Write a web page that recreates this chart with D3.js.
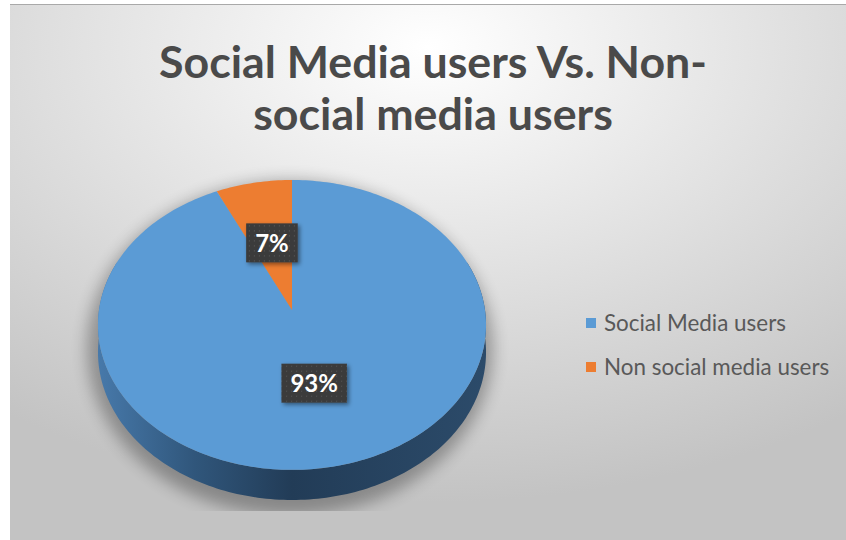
<!DOCTYPE html>
<html>
<head>
<meta charset="utf-8">
<script src="https://cdn.jsdelivr.net/npm/d3@7"></script>
<style>
  body { margin: 0; background: #fff; }
  svg { display: block; font-family: Lato, "Open Sans", sans-serif; }
</style>
</head>
<body>
<div id="chart"></div>
<script>
'use strict'

var categories = ["Social Media users", "Non social media users"];
var values = [93, 7];
var colors = ["#5b9bd5", "#ed7d31"];
var titleLines = ["Social Media users Vs. Non-", "social media users"];

var W = 846, H = 540;
var svg = d3.select("#chart").append("svg").attr("width", W).attr("height", H);
var defs = svg.append("defs");

// background gradient
var bg = defs.append("radialGradient").attr("id", "bg")
    .attr("cx", "50%").attr("cy", "8%").attr("r", "85%");
bg.append("stop").attr("offset", "0%").attr("stop-color", "#ffffff");
bg.append("stop").attr("offset", "45%").attr("stop-color", "#e4e4e4");
bg.append("stop").attr("offset", "100%").attr("stop-color", "#c3c3c3");

var side = defs.append("linearGradient").attr("id", "side")
    .attr("x1", "0%").attr("x2", "100%").attr("y1", "0%").attr("y2", "0%");
side.append("stop").attr("offset", "0%").attr("stop-color", "#4779aa");
side.append("stop").attr("offset", "25%").attr("stop-color", "#30567b");
side.append("stop").attr("offset", "50%").attr("stop-color", "#223c57");
side.append("stop").attr("offset", "100%").attr("stop-color", "#2c4b6a");

var blur = defs.append("filter").attr("id", "blur")
    .attr("x", "-20%").attr("y", "-20%").attr("width", "140%").attr("height", "140%");
blur.append("feGaussianBlur").attr("stdDeviation", 8);

var drop = defs.append("filter").attr("id", "drop")
    .attr("x", "-20%").attr("y", "-20%").attr("width", "150%").attr("height", "160%");
drop.append("feDropShadow").attr("dx", 2).attr("dy", 2).attr("stdDeviation", 2)
    .attr("flood-color", "#000").attr("flood-opacity", 0.45);

var dots = defs.append("pattern").attr("id", "dots")
    .attr("width", 5).attr("height", 5).attr("patternUnits", "userSpaceOnUse");
dots.append("rect").attr("width", 5).attr("height", 5).attr("fill", "#3b3b3b");
dots.append("rect").attr("x", 2).attr("y", 2).attr("width", 1).attr("height", 1).attr("fill", "#5a5a5a");

defs.append("clipPath").attr("id", "clipShadow")
    .append("rect").attr("x", 0).attr("y", 0).attr("width", W).attr("height", 511);

// chart area
svg.append("rect").attr("x", 10).attr("y", 4).attr("width", W - 10).attr("height", H - 4)
    .attr("fill", "url(#bg)");
svg.append("line").attr("x1", 10).attr("x2", W).attr("y1", 4.5).attr("y2", 4.5)
    .attr("stroke", "#a9a9a9").attr("stroke-width", 1);

// title
var title = svg.append("g").attr("fill", "#4a4a4a").attr("font-weight", "bold")
    .attr("text-anchor", "middle");
title.selectAll("text").data(titleLines).join("text")
    .attr("x", 433)
    .attr("y", function (d, i) { return 78 + i * 52; })
    .attr("font-size", 40)
    .text(function (d) { return d; });
// fit first line to the width seen in the chart
var t0 = title.select("text").node().getComputedTextLength();
title.selectAll("text").attr("font-size", 40 * 548 / t0);

// pie in perspective
var cx = 292, cy = 310, rx = 193, ry = 143.4, k = 0.103, depth = 27;
function proj(a, f, dz) {
    var u = f * Math.sin(a), v = -f * Math.cos(a);
    var s = 1 / (1 - k * v);
    return [cx + rx * u * s, cy + ry * v * s + dz * s];
}
function rim(a0, a1, dz) {
    var pts = [], n = Math.max(2, Math.ceil(Math.abs(a1 - a0) / 0.02));
    for (var i = 0; i <= n; i++) pts.push(proj(a0 + (a1 - a0) * i / n, 1, dz));
    return pts;
}
var line = d3.line();

var pie = d3.pie().sort(null).value(function (d) { return d; });
var arcs = pie(values);

// shadow
svg.append("g").attr("clip-path", "url(#clipShadow)")
    .append("ellipse")
    .attr("cx", cx - 2).attr("cy", cy + 38)
    .attr("rx", rx + 10).attr("ry", ry + 24)
    .attr("fill", "#000").attr("opacity", 0.3)
    .attr("filter", "url(#blur)");

// side wall (front)
var a0 = 70 * Math.PI / 180, a1 = 290 * Math.PI / 180;
var sidePts = rim(a0, a1, 0).concat(rim(a1, a0, depth));
svg.append("path").attr("d", line(sidePts) + "Z").attr("fill", "url(#side)");

// top faces
svg.append("g").selectAll("path").data(arcs).join("path")
    .attr("d", function (d) {
        return line([proj(0, 0, 0)].concat(rim(d.startAngle, d.endAngle, 0))) + "Z";
    })
    .attr("fill", function (d, i) { return colors[i]; });

// data labels
var total = d3.sum(values);
var labels = svg.append("g").selectAll("g").data(arcs).join("g")
    .attr("transform", function (d) {
        var p = proj((d.startAngle + d.endAngle) / 2, 0.5, 0);
        return "translate(" + p[0] + "," + p[1] + ")";
    });
labels.append("rect").attr("fill", "url(#dots)").attr("filter", "url(#drop)");
labels.append("text")
    .attr("text-anchor", "middle").attr("dy", "0.36em")
    .attr("fill", "#fff").attr("font-weight", "bold").attr("font-size", 24)
    .text(function (d) { return Math.round(d.value / total * 100) + "%"; });
labels.each(function () {
    var g = d3.select(this);
    var w = g.select("text").node().getComputedTextLength() + 18;
    g.select("rect").attr("x", -w / 2).attr("y", -20).attr("width", w).attr("height", 39);
});

// legend
var legend = svg.append("g").attr("transform", "translate(586,323)");
var item = legend.selectAll("g").data(categories).join("g")
    .attr("transform", function (d, i) { return "translate(0," + i * 44 + ")"; });
item.append("rect").attr("x", 0).attr("y", -5).attr("width", 10).attr("height", 10)
    .attr("fill", function (d, i) { return colors[i]; });
item.append("text").attr("x", 18).attr("dy", "0.35em")
    .attr("fill", "#595959").attr("font-size", 19)
    .text(function (d) { return d; });
var l0 = item.select("text").node().getComputedTextLength();
item.selectAll("text").attr("font-size", 19 * 182 / l0);
</script>
</body>
</html>
